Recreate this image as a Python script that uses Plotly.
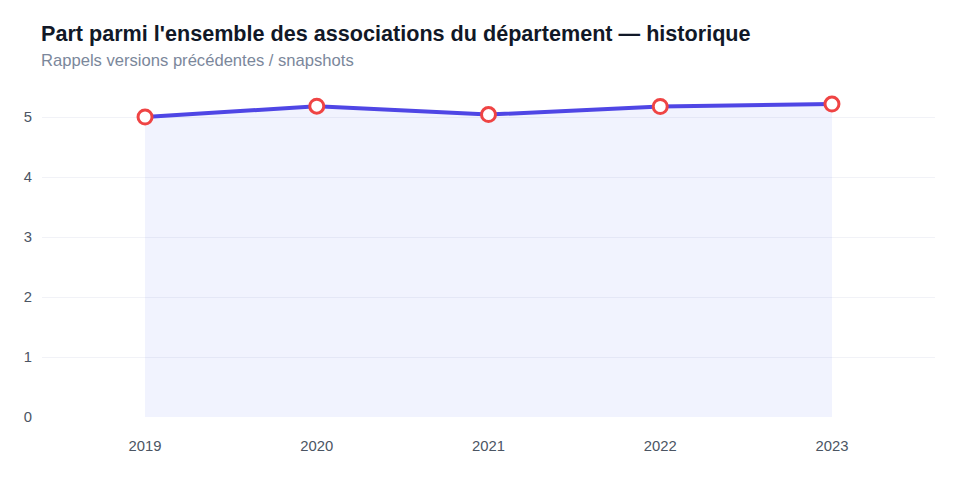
import plotly.graph_objects as go

years = ["2019", "2020", "2021", "2022", "2023"]
values = [5.0, 5.18, 5.04, 5.175, 5.215]
y_ticks = [0, 1, 2, 3, 4, 5]

title = "Part parmi l'ensemble des associations du département — historique"
subtitle = "Rappels versions précédentes / snapshots"

FONT = "Liberation Sans, Arial, Helvetica, sans-serif"

fig = go.Figure()
fig.add_trace(go.Scatter(
    x=years, y=values, mode="lines+markers",
    line=dict(color="#4F46E5", width=4),
    fill="tozeroy", fillcolor="rgba(99,120,241,0.09)",
    marker=dict(size=14, color="#ffffff", line=dict(color="#EF4444", width=3)),
    hoverinfo="x+y", showlegend=False,
))

fig.update_layout(
    width=960, height=480,
    margin=dict(l=42, r=25, t=93, b=63),
    paper_bgcolor="#ffffff", plot_bgcolor="#ffffff",
    font=dict(family=FONT, size=15, color="#4b5563"),
    xaxis=dict(type="category", range=[-0.6, 4.6], showgrid=False, zeroline=False,
               showline=False, ticks="", ticklabelstandoff=18,
               tickfont=dict(size=14.8, color="#4b5563")),
    yaxis=dict(range=[0, 5.4], tickvals=y_ticks, showgrid=True, gridcolor="#f1f2f7",
               gridwidth=1, zeroline=False, showline=False, ticks="", ticklabelstandoff=9,
               tickfont=dict(size=14.8, color="#4b5563")),
    annotations=[
        dict(text="<b>" + title + "</b>", xref="paper", yref="paper", x=-3 / 893, y=(417 - 33) / 324,
             xanchor="left", yanchor="middle", showarrow=False,
             font=dict(size=21.6, color="#111827", family=FONT)),
        dict(text=subtitle, xref="paper", yref="paper", x=-3 / 893, y=(417 - 60) / 324,
             xanchor="left", yanchor="middle", showarrow=False,
             font=dict(size=16.6, color="#7b879b", family=FONT)),
    ],
)

fig.write_html("out.html")
